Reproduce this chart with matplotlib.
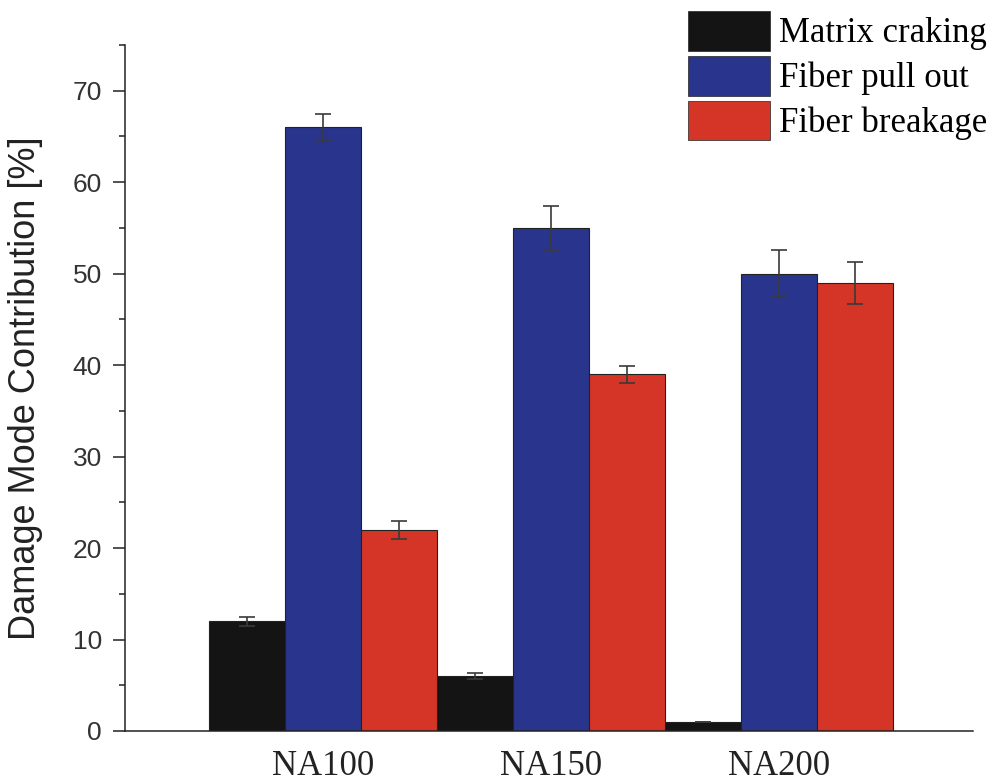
import matplotlib
matplotlib.use("Agg")
import matplotlib.pyplot as plt
import numpy as np
from matplotlib.patches import Patch

groups = ["NA100", "NA150", "NA200"]
series = ["Matrix craking", "Fiber pull out", "Fiber breakage"]
matrix_cracking = [12, 6, 1]
fiber_pull_out = [66, 55, 50]
fiber_breakage = [22, 39, 49]
err_matrix = [0.5, 0.35, 0.0]
err_pull = [1.5, 2.4, 2.6]
err_break = [1.0, 0.9, 2.3]
colors = ["#141414", "#29358C", "#D53526"]
yticks = [0, 10, 20, 30, 40, 50, 60, 70]

fig = plt.figure(figsize=(9.95, 7.83), dpi=100)
ax = fig.add_axes([125/995, 1-731/783, (973-125)/995, (731-45)/783])

x = np.arange(len(groups))
w = 1/3
vals = [matrix_cracking, fiber_pull_out, fiber_breakage]
errs = [err_matrix, err_pull, err_break]
for i, (v, e, c) in enumerate(zip(vals, errs, colors)):
    ax.bar(x + (i-1)*w, v, width=w, color=c, edgecolor="#222222", linewidth=0.8, zorder=2)
    ax.errorbar(x + (i-1)*w, v, yerr=e, fmt="none", ecolor="#3a3a3a", elinewidth=1.2,
                capsize=6, capthick=1.2, zorder=3)

ax.set_xlim(-0.868, 2.851)
ax.set_ylim(0, 75)
ax.set_yticks(yticks)
ax.set_yticks(np.arange(5, 76, 10), minor=True)
ax.set_yticklabels([str(t) for t in yticks], family="Liberation Sans", fontsize=19, color="#333333")
ax.set_xticks(x)
ax.set_xticklabels(groups, family="Liberation Serif", fontsize=25, color="#222222")
ax.tick_params(axis="x", length=0, pad=14)
ax.tick_params(axis="y", which="major", length=8.5, width=1.1, pad=8, color="#222222")
ax.tick_params(axis="y", which="minor", length=4.3, width=1.1, color="#222222")
for s in ["top", "right"]:
    ax.spines[s].set_visible(False)
for s in ["left", "bottom"]:
    ax.spines[s].set_linewidth(1.1)
    ax.spines[s].set_color("#222222")

ax.set_ylabel("Damage Mode Contribution [%]", family="Liberation Sans", fontsize=26, color="#222222")
ax.yaxis.set_label_coords(-0.097, 0.5)

handles = [Patch(facecolor=c, edgecolor="#222222", linewidth=0.5) for c in colors]
fig.legend(handles, series, loc="upper left", bbox_to_anchor=(688/995, 1-11/783),
           frameon=False, borderpad=0, borderaxespad=0, handlelength=2.36, handleheight=1.38,
           handletextpad=0.25, labelspacing=0.15,
           prop={"family": "Liberation Serif", "size": 25})

fig.savefig("out.png", dpi=100)
